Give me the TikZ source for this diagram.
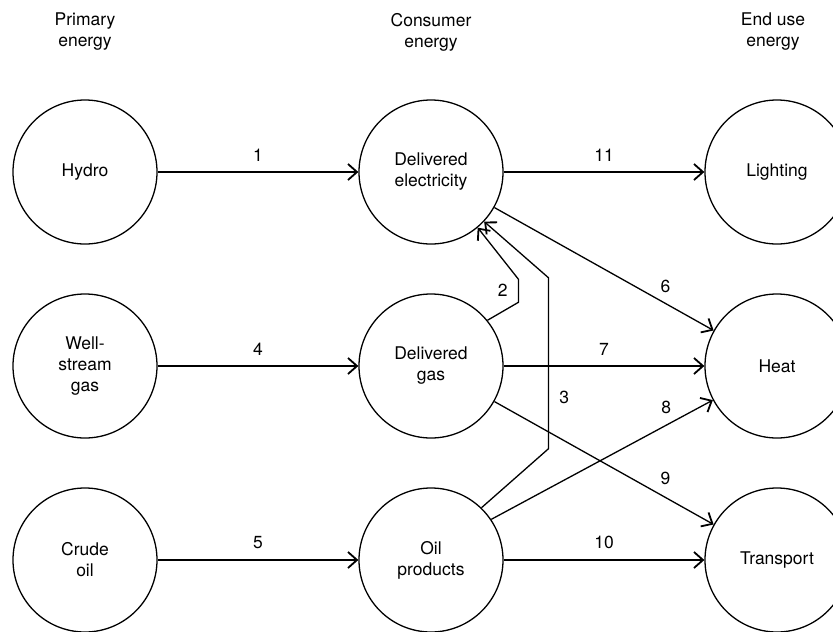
\documentclass[tikz,border=0pt]{standalone}
\usepackage{fontspec}
\setmainfont{TeX Gyre Heros}
\usetikzlibrary{positioning,arrows.meta}
\begin{document}
\begin{tikzpicture}[x=1pt, y=1pt, font=\fontsize{17.5}{21}\selectfont,
        line width=1.3pt, node distance=194pt and 346pt, on grid,
        main/.style = {draw, circle, minimum size=144pt, inner sep=0pt, align=center},
        head/.style = {align=center},
        flow/.style = {-{Straight Barb[length=9pt, width=16pt, line width=1.8pt]}}]
            \useasboundingbox (0,0) rectangle (833,-632);
            % energy levels
            \node[main] (hydro) at (85,-172) {Hydro};
            \node[main] (well) [below=of hydro] {Well-\\stream\\gas};
            \node[main] (crude) [below=of well] {Crude\\oil};
            \node[main] (elec) [right=of hydro] {Delivered\\electricity};
            \node[main] (gas) [right=of well] {Delivered\\gas};
            \node[main] (oil) [right=of crude] {Oil\\products};
            \node[main] (light) [right=of elec] {Lighting};
            \node[main] (heat) [right=of gas] {Heat};
            \node[main] (trans) [right=of oil] {Transport};
            % column headings
            \node[head] (h1) [above=140pt of hydro] {Primary\\energy};
            \node[head] (h2) [above=140pt of elec] {Consumer\\energy};
            \node[head] (h3) [above=140pt of light, xshift=-4pt] {End use\\energy};
            % flows
            \draw[flow] (hydro) -- node[midway, above=7pt] {1} (elec);
            \draw[flow] (well) -- node[midway, above=7pt] {4} (gas);
            \draw[flow] (crude) -- node[midway, above=7pt] {5} (oil);
            \draw[flow] (elec) -- node[midway, above=7pt] {11} (light);
            \draw[flow] (gas) -- node[midway, above=7pt] {7} (heat);
            \draw[flow] (oil) -- node[midway, above=7pt] {10} (trans);
            \draw[flow] (elec) -- node[pos=0.78, above=7pt] {6} (heat);
            \draw[flow] (gas) -- node[pos=0.78, above=9pt] {9} (trans);
            \draw[flow] (oil.34) -- node[pos=0.79, above=7pt] {8} (heat.208);
            \draw[flow] (gas.39) -- ++(31,18) -- node[left=7pt] {2} ++(0,23) -- (elec.-50);
            \draw[flow] (oil.46) -- ++(67,59) -- node[pos=0.3, right=7pt] {3} ++(0,171) -- (elec.-43);
        \end{tikzpicture}
\end{document}
